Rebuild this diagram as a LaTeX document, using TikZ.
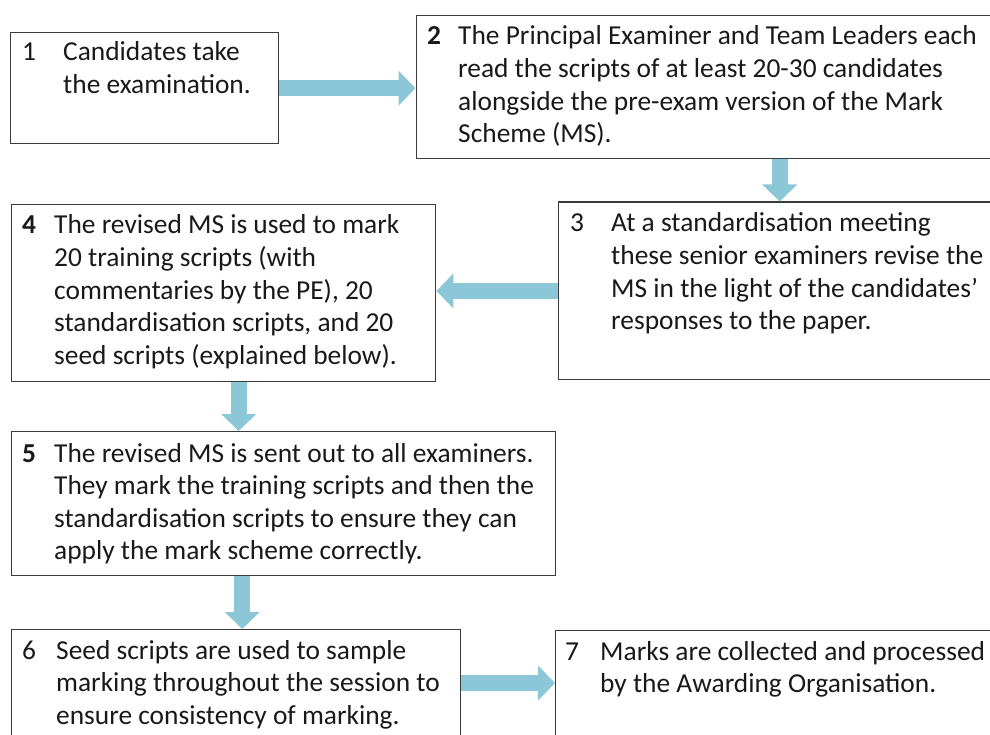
\documentclass[tikz,border=0pt]{standalone}
\usepackage{fontspec}
\setmainfont{Carlito}
\usetikzlibrary{arrows.meta}
\definecolor{flowblue}{RGB}{140,199,216}
\definecolor{edgegray}{RGB}{60,60,60}
\definecolor{ink}{RGB}{25,25,25}

\begin{document}
\begin{tikzpicture}[x=1pt,y=-1pt,
  stepbox/.style={draw=edgegray, line width=1.4pt, inner sep=0pt, anchor=north west},
  txt/.style={anchor=base west, inner sep=0pt, text=ink, font=\fontsize{27.4}{32.6}\selectfont},
  flow/.style={draw=flowblue, line width=16pt, line cap=butt, -{Triangle[width=34pt,length=17pt]}},
]
\useasboundingbox (0,0) rectangle (990,735);
\clip (0,0) rectangle (990,735);

% boxes
\node[stepbox, minimum width=268pt, minimum height=111pt] (b1) at (10,32) {};
\node[stepbox, minimum width=600pt, minimum height=143pt] (b2) at (415.5,15) {};
\node[stepbox, minimum width=442pt, minimum height=177.5pt] (b3) at (558,201.5) {};
\node[stepbox, minimum width=424pt, minimum height=177pt] (b4) at (11,204) {};
\node[stepbox, minimum width=544pt, minimum height=144pt] (b5) at (11,431) {};
\node[stepbox, minimum width=449pt, minimum height=130pt] (b6) at (11,629) {};
\node[stepbox, minimum width=450pt, minimum height=130pt] (b7) at (555,630) {};

% step texts
\node[txt] (n1) at (22,61) {1};
\node[txt] (t1) at (63,61) {\parbox[t]{600pt}{Candidates take\\the examination.}};

\node[txt] (n2) at (427,45) {\textbf{2}};
\node[txt] (t2) at (458,45) {\parbox[t]{600pt}{The Principal Examiner and Team Leaders each\\read the scripts of at least 20-30 candidates\\alongside the pre-exam version of the Mark\\Scheme (MS).}};

\node[txt] (n3) at (570,232) {3};
\node[txt] (t3) at (611,232) {\parbox[t]{600pt}{At a standardisation meeting\\these senior examiners revise the\\MS in the light of the candidates’\\responses to the paper.}};

\node[txt] (n4) at (22,234) {\textbf{4}};
\node[txt] (t4) at (54,234) {\parbox[t]{600pt}{The revised MS is used to mark\\20 training scripts (with\\commentaries by the PE), 20\\standardisation scripts, and 20\\seed scripts (explained below).}};

\node[txt] (n5) at (22,462) {\textbf{5}};
\node[txt] (t5) at (54,462) {\parbox[t]{600pt}{The revised MS is sent out to all examiners.\\They mark the training scripts and then the\\standardisation scripts to ensure they can\\apply the mark scheme correctly.}};

\node[txt] (n6) at (22,659) {6};
\node[txt] (t6) at (56,659) {\parbox[t]{600pt}{Seed scripts are used to sample\\marking throughout the session to\\ensure consistency of marking.}};

\node[txt] (n7) at (565,660) {7};
\node[txt] (t7) at (600,660) {\parbox[t]{600pt}{Marks are collected and processed\\by the Awarding Organisation.}};

% connectors
\coordinate (s45) at ([xshift=15]b4.south);
\coordinate (s56) at ([xshift=6]b6.north);
\coordinate (s67) at ([yshift=-54]b6.north east);
\draw[flow] (b1.east) -- (b1.east -| b2.west);
\draw[flow] (b2.south -| b3.north) -- (b3.north);
\draw[flow] (b3.west) -- (b3.west -| b4.east);
\draw[flow] (s45) -- (s45 |- b5.north);
\draw[flow] (s56 |- b5.south) -- (s56);
\draw[flow] (s67) -- (s67 -| b7.west);
\end{tikzpicture}
\end{document}
